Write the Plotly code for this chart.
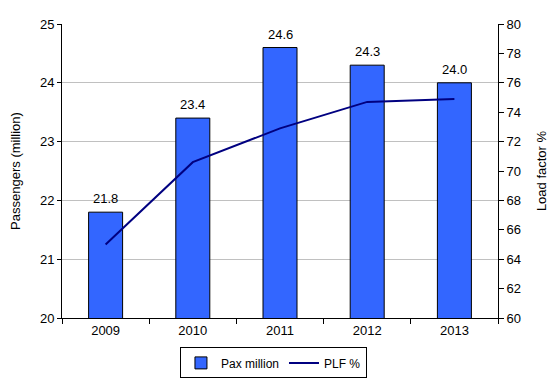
import plotly.graph_objects as go

years = ["2009", "2010", "2011", "2012", "2013"]
pax_million = [21.8, 23.4, 24.6, 24.3, 24.0]
plf_pct = [65.0, 70.6, 72.9, 74.7, 74.9]

font = dict(family="Liberation Sans, Arial, sans-serif", size=13, color="#000000")
legend_font = dict(family="Liberation Sans, Arial, sans-serif", size=12, color="#000000")

fig = go.Figure()
fig.add_trace(go.Bar(
    x=years, y=pax_million, name="Pax million",
    marker=dict(color="#3366FF", line=dict(color="#000000", width=1)),
    width=0.39,
))
fig.add_trace(go.Scatter(
    x=years, y=plf_pct, name="PLF %", yaxis="y2", mode="lines",
    line=dict(color="#000080", width=2),
))

for i, v in enumerate(pax_million):
    fig.add_annotation(x=i, y=v, xref="x", yref="y", text=f"{v:.1f}",
                       showarrow=False, yanchor="bottom", yshift=4, font=font)

# page body has an 8px default margin; figure sized to fill the 558x390 window
fig.update_layout(
    width=550, height=382,
    margin=dict(l=54, r=60, t=16, b=68),
    paper_bgcolor="white", plot_bgcolor="white",
    font=font,
    showlegend=True,
    xaxis=dict(
        type="category", range=[-0.5, 4.5],
        showline=True, linecolor="#000000", linewidth=1,
        ticks="outside", tickson="boundaries", ticklen=5, tickcolor="#000000",
        showgrid=False, tickfont=font, automargin=False,
    ),
    yaxis=dict(
        range=[20, 25], dtick=1, showline=True, linecolor="#000000", linewidth=1,
        ticks="outside", ticklen=4, tickcolor="#000000",
        showgrid=True, gridcolor="#C0C0C0", gridwidth=1, zeroline=False,
        title=dict(text="Passengers (million)", font=font, standoff=19),
        tickfont=font, automargin=False,
    ),
    yaxis2=dict(
        range=[60, 80], dtick=2, overlaying="y", side="right",
        showline=True, linecolor="#000000", linewidth=1,
        ticks="outside", ticklen=5, tickcolor="#000000",
        showgrid=False, zeroline=False,
        title=dict(text="Load factor %", font=font, standoff=16),
        tickfont=font, automargin=False,
    ),
    legend=dict(
        orientation="h", x=0.485, xanchor="center", y=-0.1, yanchor="top",
        bordercolor="#000000", borderwidth=1, font=legend_font,
        traceorder="normal", itemwidth=30, tracegroupgap=0,
    ),
)

fig.write_html("out.html")
